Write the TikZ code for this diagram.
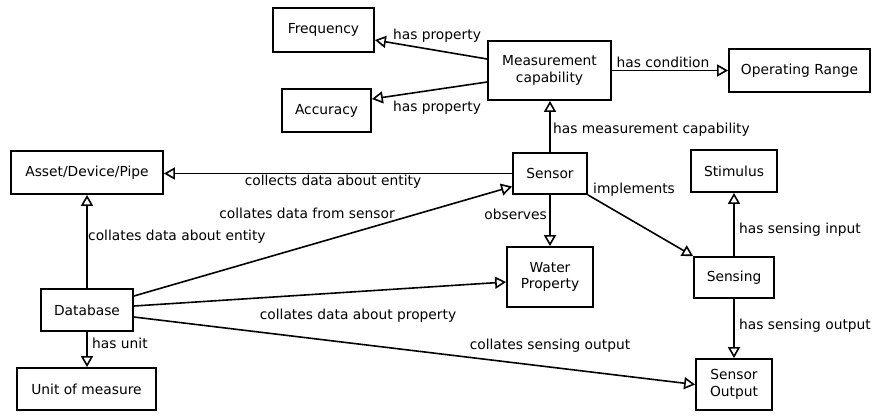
\documentclass[tikz,border=0pt]{standalone}
\usepackage{fontspec}
\setmainfont{DejaVu Sans}
\usetikzlibrary{arrows.meta}
\begin{document}
\begin{tikzpicture}[x=1pt,y=-1pt,
  box/.style={draw,line width=1.8pt,inner sep=0pt,align=center,font=\fontsize{13.8}{16.5}\selectfont},
  lbl/.style={inner sep=0pt,font=\fontsize{13.8}{16.5}\selectfont},
  rel/.style={line width=1.6pt,-{Triangle[open,length=11pt,width=12pt,line width=1.6pt]}}]
\useasboundingbox (0,0) rectangle (874,416);
% nodes
\node[box,minimum width=101pt,minimum height=44pt] (freq) at (323.5,30) {Frequency};
\node[box,minimum width=123pt,minimum height=59pt] (mc) at (549.5,70.5) {Measurement\\capability};
\node[box,minimum width=89pt,minimum height=43pt] (acc) at (326.5,110.5) {Accuracy};
\node[box,minimum width=141pt,minimum height=43pt] (or) at (799.5,70.5) {Operating Range};
\node[box,minimum width=152pt,minimum height=43pt] (asset) at (87,172.5) {Asset/Device/Pipe};
\node[box,minimum width=74pt,minimum height=41pt] (sensor) at (550,173.5) {Sensor};
\node[box,minimum width=86pt,minimum height=60pt] (wp) at (550,277) {Water\\Property};
\node[box,minimum width=86pt,minimum height=42pt] (stim) at (734,171) {Stimulus};
\node[box,minimum width=80pt,minimum height=41pt] (sensing) at (734,277.5) {Sensing};
\node[box,minimum width=76pt,minimum height=51pt] (so) at (734,384.5) {Sensor\\Output};
\node[box,minimum width=92pt,minimum height=42pt] (db) at (87,310) {Database};
\node[box,minimum width=139pt,minimum height=42pt] (unit) at (86.5,389) {Unit of measure};
% connectors
\draw[rel] ([yshift=11.5pt]mc.west) -- ([yshift=-10pt]freq.east);
\draw[rel] ([yshift=-11.5pt]mc.west) -- ([yshift=11.5pt]acc.east);
\draw[rel] (mc.east) -- (mc.east -| or.west);
\draw[rel] (sensor.north) -- (sensor.north |- mc.south);
\draw[rel] (sensor.west) -- (sensor.west -| asset.east);
\draw[rel] (sensor.south) -- (wp.north);
\draw[rel] (sensor.south east) -- (sensing.north west);
\draw[rel] (sensing.north) -- (stim.south);
\draw[rel] (sensing.south) -- (so.north);
\draw[rel] (db.north) -- (db.north |- asset.south);
\draw[rel] ([yshift=14pt]db.east) -- ([yshift=-13pt]sensor.west);
\draw[rel] ([yshift=4pt]db.east) -- ([yshift=-5pt]wp.west);
\draw[rel] ([yshift=-7pt]db.east) -- (so.west);
\draw[rel] (db.south) -- (db.south |- unit.north);
% labels
\node[lbl] (l1) at (437,36) {has property};
\node[lbl] (l2) at (437,108) {has property};
\node[lbl] (l3) at (663,62) {has condition};
\node[lbl,anchor=west] (l4) at (553,130) {has measurement capability};
\node[lbl] (l5) at (333,182) {collects data about entity};
\node[lbl] (l6) at (307,213) {collates data from sensor};
\node[lbl,anchor=west] (l7) at (88,237) {collates data about entity};
\node[lbl,anchor=east] (l8) at (547,214) {observes};
\node[lbl,anchor=west] (l9) at (593,190) {implements};
\node[lbl,anchor=west] (l10) at (739,230) {has sensing input};
\node[lbl,anchor=west] (l11) at (739,326) {has sensing output};
\node[lbl] (l12) at (358,316) {collates data about property};
\node[lbl] (l13) at (550,346) {collates sensing output};
\node[lbl,anchor=west] (l14) at (92,343) {has unit};
\end{tikzpicture}
\end{document}
